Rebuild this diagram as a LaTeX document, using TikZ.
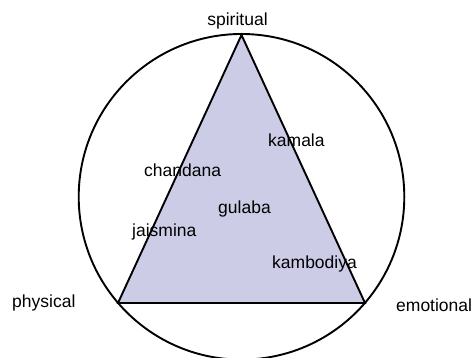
\documentclass[tikz,border=0pt]{standalone}
\usepackage{fontspec}
\setmainfont{Liberation Sans}
\usepackage{tikz}
\usetikzlibrary{positioning,calc}
\definecolor{triafill}{RGB}{204,204,230}

\begin{document}
\begin{tikzpicture}[
  x=1pt,y=1pt,
  every node/.style={font=\fontsize{17.5}{20}\selectfont,inner sep=0pt},
  axis/.style={anchor=base west},
  flower/.style={anchor=base west},
  outline/.style={line width=1.9pt,draw=black},
]
\useasboundingbox (0,0) rectangle (474,358);

%% Corners of the triangle and centre of the circle
\coordinate (sp) at (241.5,323);
\coordinate (ph) at (118,55);
\coordinate (em) at (365,55);
\coordinate (ctr) at (241.5,161.2);

%% Circle and triangle
\draw[outline] (ctr) circle (162.8);
\filldraw[outline,fill=triafill,line join=miter] (sp) -- (ph) -- (em) -- cycle;

%% Axis labels
\node[anchor=base] (spiritual) at (237.5,332) {spiritual};
\node[axis] (physical) at (12,50) {physical};
\node[axis] (emotional) at (396,46) {emotional};

%% Flower labels
\node[flower] (kamala)    at (268,211) {kamala};
\node[flower] (chandana)  at (144,181) {chandana};
\node[flower] (gulaba)    at (218,144) {gulaba};
\node[flower] (jaismina)  at (132,121) {jaismina};
\node[flower] (kambodiya) at (272,89)  {kambodiya};

\end{tikzpicture}
\end{document}
